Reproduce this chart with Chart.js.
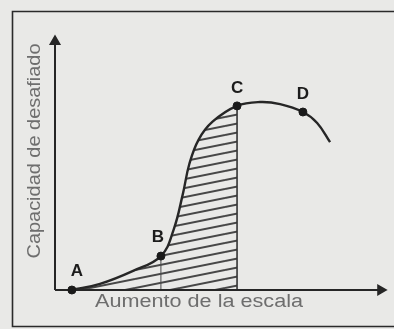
<!DOCTYPE html>
<html>
<head>
<meta charset="utf-8">
<script src="https://cdn.jsdelivr.net/npm/chart.js@4.4.1/dist/chart.umd.min.js"></script>
<style>
  html, body { margin: 0; padding: 0; background: #e9e9e7; overflow: hidden; }
  #wrap { width: 394px; height: 329px; }
</style>
</head>
<body>
<div id="wrap"><canvas id="curveChart"></canvas></div>
<script>
// ==== DATA ====
// x = aumento de la escala, y = capacidad (0..100 units)
const curveX = [5.1, 13.6, 23.6, 32.0, 35.8, 38.6, 40.6, 43.4, 47.6, 55.0, 61.9, 68.0, 74.9, 79.2, 83.1];
const curveY = [0, 2.4, 7.5, 13.3, 23.5, 37.5, 49.5, 59.0, 66.0, 72.2, 73.7, 72.9, 69.8, 65.5, 58.0];
const hatchEnd = 9; // index of point C: hatched area goes from A to C

const pointNames = ["A", "B", "C", "D"];
const pointX = [5.1, 32.0, 55.0, 74.9];
const pointY = [0, 13.3, 72.2, 69.8];

const xTitle = "Aumento de la escala";
const yTitle = "Capacidad de desafiado";

// ==== Utils ====
function toPoints(xs, ys) {
  return xs.map((x, i) => ({ x: x, y: ys[i] }));
}

function makeHatch() {
  const tile = document.createElement("canvas");
  tile.width = 45;
  tile.height = 9;
  const c = tile.getContext("2d");
  c.strokeStyle = "#474747";
  c.lineWidth = 2;
  [-9, 0, 9].forEach((off) => {
    c.beginPath();
    c.moveTo(0, 9 + off);
    c.lineTo(45, 0 + off);
    c.stroke();
  });
  return document.getElementById("curveChart").getContext("2d").createPattern(tile, "repeat");
}

// background, frame, titles and point letters
const sketchPlugin = {
  id: "sketch",
  beforeDraw(chart) {
    const ctx = chart.ctx;
    ctx.save();
    ctx.fillStyle = "#e9e9e7";
    ctx.fillRect(0, 0, chart.width, chart.height);
    ctx.strokeStyle = "#2a2a2a";
    ctx.lineWidth = 1.6;
    ctx.beginPath();
    ctx.moveTo(chart.width + 5, 11.5);
    ctx.lineTo(12.5, 11.5);
    ctx.lineTo(12.5, 326.5);
    ctx.lineTo(chart.width + 5, 326.5);
    ctx.stroke();
    ctx.restore();
  },
  afterDraw(chart) {
    const ctx = chart.ctx;
    const area = chart.chartArea;
    ctx.save();
    ctx.fillStyle = "#6e6e6e";
    ctx.textAlign = "center";
    ctx.textBaseline = "middle";
    ctx.font = "18px 'Liberation Sans', Arial, sans-serif";

    // x title, stretched a bit like the scan
    let w = ctx.measureText(xTitle).width;
    ctx.save();
    ctx.translate(area.left + 144, area.bottom + 12);
    ctx.scale(208 / w, 1);
    ctx.fillText(xTitle, 0, 0);
    ctx.restore();

    // y title
    w = ctx.measureText(yTitle).width;
    ctx.save();
    ctx.translate(area.left - 20, area.top + 116);
    ctx.rotate(-Math.PI / 2);
    ctx.scale(215 / w, 1);
    ctx.fillText(yTitle, 0, 0);
    ctx.restore();

    // letters over the marked points
    const offsets = { A: [5, -19], B: [-3, -19], C: [0, -18], D: [0, -18] };
    const meta = chart.getDatasetMeta(chart.data.datasets.findIndex((d) => d.label === "points"));
    ctx.fillStyle = "#1c1c1c";
    ctx.font = "bold 17px 'Liberation Sans', Arial, sans-serif";
    meta.data.forEach((el, i) => {
      const off = offsets[pointNames[i]];
      ctx.fillText(pointNames[i], el.x + off[0], el.y + off[1]);
    });
    ctx.restore();
  },
};

document.addEventListener("DOMContentLoaded", function () {
  const ink = "#262626";

  new Chart(document.getElementById("curveChart"), {
    type: "scatter",
    data: {
      datasets: [
        {
          label: "hatch",
          data: toPoints(curveX.slice(0, hatchEnd + 1), curveY.slice(0, hatchEnd + 1)),
          showLine: true,
          borderWidth: 0,
          pointRadius: 0,
          fill: "origin",
          backgroundColor: makeHatch(),
          tension: 0.4,
          order: 5,
        },
        {
          label: "curve",
          data: toPoints(curveX, curveY),
          showLine: true,
          borderColor: ink,
          borderWidth: 2.4,
          pointRadius: 0,
          fill: false,
          tension: 0.4,
          order: 2,
        },
        {
          label: "dropB",
          data: [{ x: pointX[1], y: 0 }, { x: pointX[1], y: pointY[1] }],
          showLine: true,
          borderColor: "#4a4a4a",
          borderWidth: 1,
          pointRadius: 0,
          order: 3,
        },
        {
          label: "dropC",
          data: [{ x: pointX[2], y: 0 }, { x: pointX[2], y: pointY[2] }],
          showLine: true,
          borderColor: "#333",
          borderWidth: 1.6,
          pointRadius: 0,
          order: 3,
        },
        {
          label: "xAxisLine",
          data: [{ x: 0, y: 0 }, { x: 98.4, y: 0 }],
          showLine: true,
          borderColor: ink,
          borderWidth: 2,
          pointRadius: [0, 5],
          pointStyle: "triangle",
          rotation: 90,
          pointBackgroundColor: ink,
          pointBorderColor: ink,
          clip: false,
          order: 1,
        },
        {
          label: "yAxisLine",
          data: [{ x: 0, y: 0 }, { x: 0, y: 97.5 }],
          showLine: true,
          borderColor: ink,
          borderWidth: 2,
          pointRadius: [0, 5],
          pointStyle: "triangle",
          pointBackgroundColor: ink,
          pointBorderColor: ink,
          clip: false,
          order: 1,
        },
        {
          label: "points",
          data: toPoints(pointX, pointY),
          showLine: false,
          pointRadius: 4,
          pointBackgroundColor: "#1a1a1a",
          pointBorderColor: "#1a1a1a",
          clip: false,
          order: 0,
        },
      ],
    },
    options: {
      responsive: true,
      maintainAspectRatio: false,
      animation: false,
      layout: { padding: { left: 55, right: 8, top: 35, bottom: 39 } },
      plugins: {
        legend: { display: false },
        tooltip: { enabled: false },
      },
      scales: {
        x: { type: "linear", min: 0, max: 100, display: false },
        y: { type: "linear", min: 0, max: 100, display: false },
      },
    },
    plugins: [sketchPlugin],
  });
});
</script>
</body>
</html>
